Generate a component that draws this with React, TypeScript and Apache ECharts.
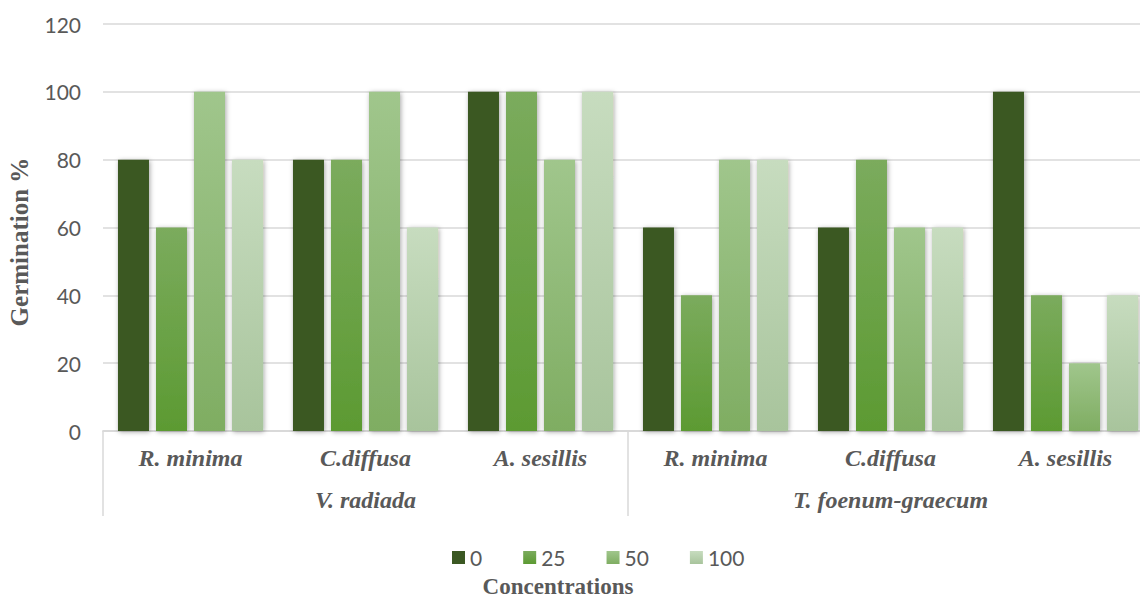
import React, { useEffect, useRef } from "react";
import * as echarts from "echarts";

// Test species (lower axis level) and host crops (upper axis level)
const species = ["R. minima", "C.diffusa", "A. sesillis", "R. minima", "C.diffusa", "A. sesillis"];
const crops = ["V. radiada", "T. foenum-graecum"];

// Germination % per extract concentration
const concentrations = ["0", "25", "50", "100"];
const conc0 = [80, 80, 100, 60, 60, 100];
const conc25 = [60, 80, 100, 40, 80, 40];
const conc50 = [100, 100, 80, 80, 60, 20];
const conc100 = [80, 60, 100, 80, 60, 40];

const yTicks = { min: 0, max: 120, interval: 20 };

const SERIF = "'Liberation Serif', 'Times New Roman', serif";
const SANS = "Lato, 'Open Sans', sans-serif";

const grad = (top: string, bottom: string) =>
  new echarts.graphic.LinearGradient(0, 0, 0, 1, [
    { offset: 0, color: top },
    { offset: 1, color: bottom },
  ]);

const fills = [
  grad("#3b5823", "#3b5823"),
  grad("#7bab5d", "#5c9a32"),
  grad("#a0c68c", "#7fad62"),
  grad("#c7dcbf", "#a8c49c"),
];

export default function App() {
  const ref = useRef<HTMLDivElement>(null);

  useEffect(() => {
    if (!ref.current) return;
    const chart = echarts.init(ref.current, null, { renderer: "svg" });
    const values = [conc0, conc25, conc50, conc100];

    const axisLabelFont = {
      fontFamily: SERIF,
      fontSize: 24,
      fontWeight: "bold",
      fontStyle: "italic",
      color: "#595959",
    };

    chart.setOption({
      animation: false,
      backgroundColor: "#ffffff",
      // the plot runs slightly past the visible right edge
      grid: { left: 103, right: 7, top: 24, bottom: 167 },
      legend: {
        data: concentrations,
        left: 447,
        top: 542,
        itemWidth: 13,
        itemHeight: 13,
        itemGap: 41,
        icon: "rect",
        textStyle: { fontFamily: SANS, fontSize: 21, color: "#595959", padding: [0, 0, 0, 0] },
      },
      xAxis: [
        {
          type: "category",
          data: species,
          axisLine: { lineStyle: { color: "#d9d9d9", width: 1.5 } },
          axisTick: { show: false },
          axisLabel: { interval: 0, margin: 15, ...axisLabelFont },
        },
        {
          type: "category",
          data: crops,
          position: "bottom",
          axisLine: { show: true, lineStyle: { color: "#d9d9d9", width: 1.5 } },
          axisTick: { show: true, length: 85, interval: 0, lineStyle: { color: "#d9d9d9", width: 1.5 } },
          axisLabel: { interval: 0, margin: 57, ...axisLabelFont },
        },
      ],
      yAxis: {
        type: "value",
        ...yTicks,
        axisLine: { show: false },
        axisTick: { show: false },
        splitLine: { lineStyle: { color: "#d9d9d9", width: 1.5 } },
        axisLabel: { margin: 22, fontFamily: SANS, fontSize: 21, color: "#595959" },
      },
      series: concentrations.map((name, i) => ({
        name,
        type: "bar",
        xAxisIndex: 0,
        data: values[i],
        barWidth: 31,
        barGap: "22.6%",
        itemStyle: {
          color: fills[i],
          shadowBlur: 5,
          shadowColor: "rgba(0,0,0,0.35)",
          shadowOffsetX: 1,
          shadowOffsetY: 1,
        },
      })),
      graphic: [
        {
          type: "text",
          x: 19,
          y: 242,
          rotation: Math.PI / 2,
          style: {
            text: "Germination %",
            fontFamily: SERIF,
            fontSize: 25,
            fontWeight: "bold",
            fill: "#595959",
            align: "center",
            verticalAlign: "middle",
          },
        },
        {
          type: "text",
          x: 558,
          y: 586,
          style: {
            text: "Concentrations",
            fontFamily: SERIF,
            fontSize: 23,
            fontWeight: "bold",
            fill: "#595959",
            align: "center",
            verticalAlign: "middle",
          },
        },
      ],
    });

    return () => chart.dispose();
  }, []);

  return (
    <div style={{ position: "fixed", left: 0, top: 0, width: 1140, height: 598, overflow: "hidden" }}>
      <div ref={ref} style={{ width: 1160, height: 598 }} />
    </div>
  );
}
